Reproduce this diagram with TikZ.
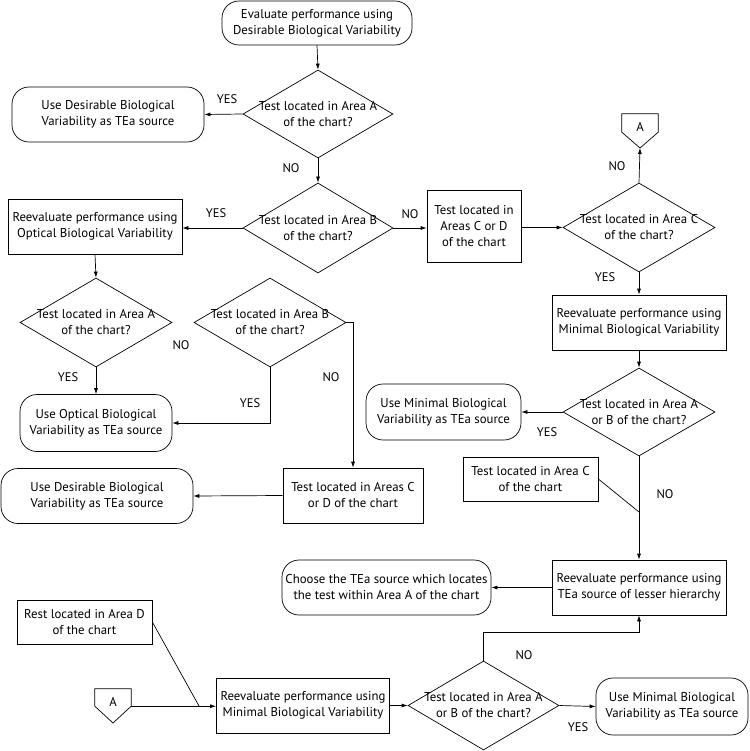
\documentclass[tikz,border=0pt]{standalone}
\usepackage{fontspec}
\setmainfont{PT Sans}
\usetikzlibrary{shapes.geometric,arrows.meta,calc}
\begin{document}
\begin{tikzpicture}[x=1pt,y=-1pt,
  every node/.style={font=\fontsize{12.8}{16}\selectfont, align=center, inner sep=0pt},
  box/.style={draw, rectangle, line width=0.7pt},
  rbox/.style={draw, rectangle, rounded corners=17pt, line width=0.7pt},
  dia/.style={draw, diamond, line width=0.7pt},
  lbl/.style={font=\fontsize{12.5}{14}\selectfont},
  conn/.style={line width=0.7pt},
  arr/.style={line width=0.7pt, -{Latex[length=6pt,width=4pt]}}
]
\useasboundingbox (0,0) rectangle (749,751);

% top column
\node[rbox, minimum width=190pt, minimum height=44pt] (start) at (317,23) {Evaluate performance using\\Desirable Biological Variability};
\node[dia, minimum width=150pt, minimum height=88pt] (d1) at (318,114) {};
\node at (d1) {Test located in Area A\\of the chart?};
\node[rbox, minimum width=192pt, minimum height=55pt] (usedes1) at (108,114.5) {Use Desirable Biological\\Variability as TEa source};
\node[dia, minimum width=150pt, minimum height=90pt] (d2) at (318,228) {};
\node at (d2) {Test located in Area B\\of the chart?};
\node[box, minimum width=174pt, minimum height=55pt] (reopt) at (95,226.5) {Reevaluate performance using\\Optical Biological Variability};
\node[box, minimum width=94pt, minimum height=72pt] (cd) at (474,226) {Test located in\\Areas C or D\\of the chart};
\node[dia, minimum width=152pt, minimum height=89pt] (d3) at (639,227.5) {};
\node at (d3) {Test located in Area C\\of the chart?};

% connector A (top)
\node[minimum width=36pt, minimum height=18pt] (ca) at (640,123) {};
\coordinate (catip) at (640,148);
\draw[conn] (ca.north west) -- (ca.north east) -- (ca.south east) -- (catip) -- (ca.south west) -- cycle;
\node at (640,127) {A};

% right column
\node[box, minimum width=174pt, minimum height=55pt] (minbv) at (639,322.5) {Reevaluate performance using\\Minimal Biological Variability};
\node[dia, minimum width=152pt, minimum height=88pt] (d4) at (639,412) {};
\node at (d4) {Test located in Area A\\or B of the chart?};
\node[rbox, minimum width=155pt, minimum height=56pt] (usemin1) at (443.5,412) {Use Minimal Biological\\Variability as TEa source};
\node[box, minimum width=135pt, minimum height=44pt] (testc) at (530.5,479) {Test located in Area C\\of the chart};
\coordinate (j1) at (639,512);
\node[box, minimum width=174pt, minimum height=55pt] (lesser) at (639,587.5) {Reevaluate performance using\\TEa source of lesser hierarchy};
\node[rbox, minimum width=209pt, minimum height=55pt] (choose) at (386.5,587.5) {Choose the TEa source which locates\\the test within Area A of the chart};

% left middle
\node[dia, minimum width=152pt, minimum height=89pt] (d5) at (96,322.5) {};
\node at (d5) {Test located in Area A\\of the chart?};
\node[dia, minimum width=152pt, minimum height=89pt] (d6) at (270,322.5) {};
\node at (d6) {Test located in Area B\\of the chart?};
\node[rbox, minimum width=152pt, minimum height=57pt] (useopt) at (96,423) {Use Optical Biological\\Variability as TEa source};
\node[box, minimum width=140pt, minimum height=55pt] (cd2) at (353,495.5) {Test located in Areas C\\or D of the chart};
\node[rbox, minimum width=192pt, minimum height=55pt] (usedes2) at (97,496) {Use Desirable Biological\\Variability as TEa source};

% bottom
\node[box, minimum width=135pt, minimum height=44pt] (rest) at (84.5,622) {Rest located in Area D\\of the chart};
\node[minimum width=36pt, minimum height=17pt] (cb) at (113,697.5) {};
\coordinate (cbtip) at (113,723);
\draw[conn] (cb.north west) -- (cb.north east) -- (cb.south east) -- (cbtip) -- (cb.south west) -- cycle;
\node at (113,702) {A};
\coordinate (j2) at (199,706);
\node[box, minimum width=173pt, minimum height=55pt] (minbv2) at (303,705.5) {Reevaluate performance using\\Minimal Biological Variability};
\node[dia, minimum width=151pt, minimum height=89pt] (d7) at (483.5,705.5) {};
\node at (d7) {Test located in Area A\\or B of the chart?};
\node[rbox, minimum width=152pt, minimum height=57pt] (usemin2) at (672,706.5) {Use Minimal Biological\\Variability as TEa source};

% connectors
\draw[arr] (start.south) -- (d1.north);
\draw[arr] (d1.west) -- (usedes1.east);
\draw[arr] (d1.south) -- (d2.north);
\draw[arr] (d2.west) -- (reopt.east |- d2.west);
\draw[arr] (d2.east) -- (cd.west |- d2.east);
\draw[arr] (cd.east |- d3.west) -- (d3.west);
\draw[arr] (d3.north) -- (catip);
\draw[arr] (d3.south) -- (minbv.north);
\draw[arr] (minbv.south) -- (d4.north);
\draw[arr] (d4.west) -- (usemin1.east);
\draw[arr] (d4.south) -- (lesser.north);
\draw[conn] (testc.east) -- (j1);
\draw[arr] (lesser.west) -- (choose.east);
\draw[arr] (reopt.south) -- (d5.north);
\draw[arr] (d5.south) -- (useopt.north);
\draw[arr] (d6.south) |- (useopt.east);
\draw[arr] (d6.east) -| (cd2.north);
\draw[arr] (cd2.west) -- (usedes2.east);
\draw[arr] (cb.south east) -- (cb.south east -| minbv2.west);
\draw[conn] (rest.east) -- (j2);
\draw[arr] (minbv2.east) -- (d7.west);
\draw[arr] (d7.east) -- (usemin2.west);
\draw[arr] (d7.north) -- ++(0,-28) -| (lesser.south);

% labels
\node[lbl] at (227,99) {YES};
\node[lbl] at (291,168) {NO};
\node[lbl] at (216,213) {YES};
\node[lbl] at (410,214) {NO};
\node[lbl] at (617,166) {NO};
\node[lbl] at (605,277) {YES};
\node[lbl] at (547,432) {YES};
\node[lbl] at (665,494) {NO};
\node[lbl] at (68,377) {YES};
\node[lbl] at (181,345) {NO};
\node[lbl] at (250,403) {YES};
\node[lbl] at (331,377) {NO};
\node[lbl] at (524,655) {NO};
\node[lbl] at (578,727) {YES};
\end{tikzpicture}
\end{document}
